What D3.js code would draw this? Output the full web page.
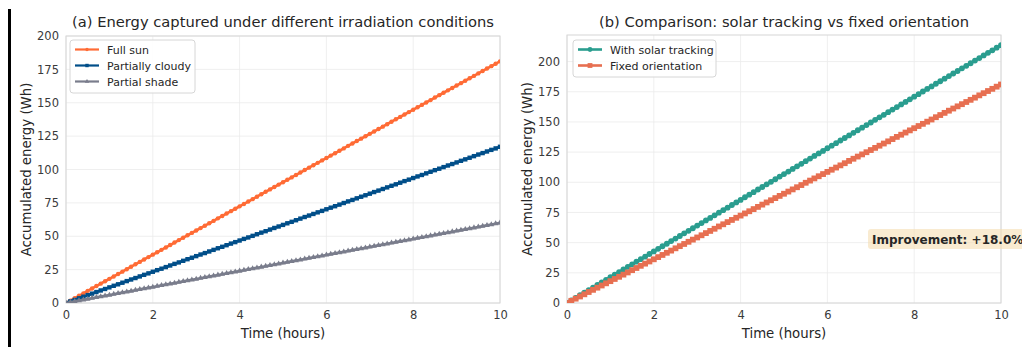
<!DOCTYPE html>
<html>
<head>
<meta charset="utf-8">
<script src="https://cdn.jsdelivr.net/npm/d3@7"></script>
<style>
  body { margin: 0; background: #fff; }
  text { font-family: "DejaVu Sans", sans-serif; }
</style>
</head>
<body>
<script>
// sampling grid: every 0.1 h from 0 to 10
const hours = d3.range(0, 101).map(k => k / 10);

const fullSun = [0,1.8,3.6,5.4,7.2,9.1,10.9,12.7,14.5,16.3,18.1,19.9,21.7,23.5,25.3,27.2,29.0,30.8,32.6,34.4,
  36.2,38.0,39.8,41.6,43.4,45.3,47.1,48.9,50.7,52.5,54.3,56.1,57.9,59.7,61.5,63.4,65.2,67.0,68.8,70.6,
  72.4,74.2,76.0,77.8,79.6,81.5,83.3,85.1,86.9,88.7,90.5,92.3,94.1,95.9,97.7,99.6,101.4,103.2,105.0,106.8,
  108.6,110.4,112.2,114.0,115.8,117.7,119.5,121.3,123.1,124.9,126.7,128.5,130.3,132.1,133.9,135.8,137.6,139.4,141.2,143.0,
  144.8,146.6,148.4,150.2,152.0,153.9,155.7,157.5,159.3,161.1,162.9,164.7,166.5,168.3,170.1,172.0,173.8,175.6,177.4,179.2,181.0];

const partlyCloudy = [0,1.2,2.3,3.5,4.7,5.9,7.0,8.2,9.4,10.5,11.7,12.9,14.0,15.2,16.4,17.6,18.7,19.9,21.1,22.2,
  23.4,24.6,25.7,26.9,28.1,29.3,30.4,31.6,32.8,33.9,35.1,36.3,37.4,38.6,39.8,41.0,42.1,43.3,44.5,45.6,
  46.8,48.0,49.1,50.3,51.5,52.7,53.8,55.0,56.2,57.3,58.5,59.7,60.8,62.0,63.2,64.4,65.5,66.7,67.9,69.0,
  70.2,71.4,72.5,73.7,74.9,76.1,77.2,78.4,79.6,80.7,81.9,83.1,84.2,85.4,86.6,87.8,88.9,90.1,91.3,92.4,
  93.6,94.8,95.9,97.1,98.3,99.5,100.6,101.8,103.0,104.1,105.3,106.5,107.6,108.8,110.0,111.2,112.3,113.5,114.7,115.8,117.0];

const partialShade = [0,0.6,1.2,1.8,2.4,3.0,3.6,4.2,4.8,5.4,6.0,6.6,7.2,7.8,8.4,9.0,9.6,10.2,10.8,11.4,
  12.0,12.6,13.2,13.8,14.4,15.0,15.6,16.2,16.8,17.4,18.0,18.6,19.2,19.8,20.4,21.0,21.6,22.2,22.8,23.4,
  24.0,24.6,25.2,25.8,26.4,27.0,27.6,28.2,28.8,29.4,30.0,30.6,31.2,31.8,32.4,33.0,33.6,34.2,34.8,35.4,
  36.0,36.6,37.2,37.8,38.4,39.0,39.6,40.2,40.8,41.4,42.0,42.6,43.2,43.8,44.4,45.0,45.6,46.2,46.8,47.4,
  48.0,48.6,49.2,49.8,50.4,51.0,51.6,52.2,52.8,53.4,54.0,54.6,55.2,55.8,56.4,57.0,57.6,58.2,58.8,59.4,60.0];

const withTracking = [0,2.1,4.3,6.4,8.5,10.7,12.8,15.0,17.1,19.2,21.4,23.5,25.6,27.8,29.9,32.0,34.2,36.3,38.4,40.6,
  42.7,44.9,47.0,49.1,51.3,53.4,55.5,57.7,59.8,61.9,64.1,66.2,68.4,70.5,72.6,74.8,76.9,79.0,81.2,83.3,
  85.4,87.6,89.7,91.8,94.0,96.1,98.3,100.4,102.5,104.7,106.8,108.9,111.1,113.2,115.3,117.5,119.6,121.8,123.9,126.0,
  128.2,130.3,132.4,134.6,136.7,138.8,141.0,143.1,145.2,147.4,149.5,151.7,153.8,155.9,158.1,160.2,162.3,164.5,166.6,168.7,
  170.9,173.0,175.2,177.3,179.4,181.6,183.7,185.8,188.0,190.1,192.2,194.4,196.5,198.6,200.8,202.9,205.1,207.2,209.3,211.5,213.6];

const fixedOrientation = [0,1.8,3.6,5.4,7.2,9.1,10.9,12.7,14.5,16.3,18.1,19.9,21.7,23.5,25.3,27.2,29.0,30.8,32.6,34.4,
  36.2,38.0,39.8,41.6,43.4,45.3,47.1,48.9,50.7,52.5,54.3,56.1,57.9,59.7,61.5,63.4,65.2,67.0,68.8,70.6,
  72.4,74.2,76.0,77.8,79.6,81.5,83.3,85.1,86.9,88.7,90.5,92.3,94.1,95.9,97.7,99.6,101.4,103.2,105.0,106.8,
  108.6,110.4,112.2,114.0,115.8,117.7,119.5,121.3,123.1,124.9,126.7,128.5,130.3,132.1,133.9,135.8,137.6,139.4,141.2,143.0,
  144.8,146.6,148.4,150.2,152.0,153.9,155.7,157.5,159.3,161.1,162.9,164.7,166.5,168.3,170.1,172.0,173.8,175.6,177.4,179.2,181.0];

const xTicks = [0, 2, 4, 6, 8, 10];
const yTicksA = [0, 25, 50, 75, 100, 125, 150, 175, 200];
const yTicksB = [0, 25, 50, 75, 100, 125, 150, 175, 200];
const improvementLabel = "Improvement: +18.0%";

const W = 1022, H = 347;
const svg = d3.select("body").append("svg")
  .attr("width", W).attr("height", H);

// black rule on the far left
svg.append("rect").attr("x", 8).attr("y", 9).attr("width", 3).attr("height", H - 9).attr("fill", "#000");

const panels = [
  {
    id: "a", left: 66, right: 500, top: 36, bottom: 303, yMax: 200, yTicks: yTicksA,
    title: "(a) Energy captured under different irradiation conditions",
    series: [
      { name: "Full sun", values: fullSun, color: "#ff6b35", marker: "circle" },
      { name: "Partially cloudy", values: partlyCloudy, color: "#004e89", marker: "square" },
      { name: "Partial shade", values: partialShade, color: "#7a7d8c", marker: "triangle" }
    ],
    lw: 2.6, ms: 4.4, legend: { x: 70, y: 40, w: 125 }
  },
  {
    id: "b", left: 567, right: 1001, top: 35, bottom: 303, yMax: 222, yTicks: yTicksB,
    title: "(b) Comparison: solar tracking vs fixed orientation",
    series: [
      { name: "With solar tracking", values: withTracking, color: "#2a9d8f", marker: "circle" },
      { name: "Fixed orientation", values: fixedOrientation, color: "#e76f51", marker: "square" }
    ],
    lw: 3, ms: 5.8, legend: { x: 573, y: 40, w: 143 }
  }
];

function markerPath(type, s) {
  if (type === "circle") return d3.symbol(d3.symbolCircle, Math.PI * (s / 2) * (s / 2))();
  if (type === "square") return d3.symbol(d3.symbolSquare, s * s)();
  return d3.symbol(d3.symbolTriangle, s * s * 0.75)();
}

panels.forEach(p => {
  const x = d3.scaleLinear().domain([0, 10]).range([p.left, p.right]);
  const y = d3.scaleLinear().domain([0, p.yMax]).range([p.bottom, p.top]);
  const g = svg.append("g");

  g.append("clipPath").attr("id", "clip-" + p.id)
    .append("rect").attr("x", p.left).attr("y", p.top)
    .attr("width", p.right - p.left).attr("height", p.bottom - p.top);

  // grid
  g.selectAll(".gx").data(xTicks).enter().append("line")
    .attr("x1", d => x(d)).attr("x2", d => x(d))
    .attr("y1", p.top).attr("y2", p.bottom)
    .attr("stroke", "#ebebeb").attr("stroke-width", 0.8);
  g.selectAll(".gy").data(p.yTicks).enter().append("line")
    .attr("x1", p.left).attr("x2", p.right)
    .attr("y1", d => y(d)).attr("y2", d => y(d))
    .attr("stroke", "#ebebeb").attr("stroke-width", 0.8);

  // frame
  g.append("rect").attr("x", p.left).attr("y", p.top)
    .attr("width", p.right - p.left).attr("height", p.bottom - p.top)
    .attr("fill", "none").attr("stroke", "#d6d6d6").attr("stroke-width", 1);

  // axes (tick labels only)
  const xAxis = g.append("g").attr("transform", `translate(0,${p.bottom})`)
    .call(d3.axisBottom(x).tickValues(xTicks).tickSize(0).tickPadding(8).tickFormat(d3.format("d")));
  const yAxis = g.append("g").attr("transform", `translate(${p.left},0)`)
    .call(d3.axisLeft(y).tickValues(p.yTicks).tickSize(0).tickPadding(7).tickFormat(d3.format("d")));
  [xAxis, yAxis].forEach(a => {
    a.select(".domain").remove();
    a.selectAll("text").attr("fill", "#3a3a3a").style("font-size", "11.5px")
      .style("font-family", "DejaVu Sans, sans-serif");
  });

  // labels
  g.append("text").attr("x", (p.left + p.right) / 2).attr("y", 27)
    .attr("text-anchor", "middle").attr("fill", "#262626").style("font-size", "14.7px").text(p.title);
  g.append("text").attr("x", (p.left + p.right) / 2).attr("y", 338)
    .attr("text-anchor", "middle").attr("fill", "#262626").style("font-size", "13.3px").text("Time (hours)");
  g.append("text")
    .attr("transform", `translate(${p.left - 35},${(p.top + p.bottom) / 2}) rotate(-90)`)
    .attr("text-anchor", "middle").attr("fill", "#262626").style("font-size", "13.3px")
    .text("Accumulated energy (Wh)");

  // series
  const plot = g.append("g").attr("clip-path", `url(#clip-${p.id})`);
  const line = d3.line().x((d, i) => x(hours[i])).y(d => y(d));
  p.series.forEach(s => {
    plot.append("path").datum(s.values).attr("d", line)
      .attr("fill", "none").attr("stroke", s.color).attr("stroke-width", p.lw);
    plot.selectAll(null).data(s.values).enter().append("path")
      .attr("transform", (d, i) => `translate(${x(hours[i])},${y(d)})`)
      .attr("d", markerPath(s.marker, p.ms)).attr("fill", s.color);
  });

  // legend
  const L = p.legend;
  const lg = g.append("g");
  lg.append("rect").attr("x", L.x).attr("y", L.y).attr("width", L.w)
    .attr("height", p.series.length * 16 + 5).attr("rx", 3)
    .attr("fill", "#fff").attr("fill-opacity", 0.85).attr("stroke", "#d6d6d6");
  p.series.forEach((s, i) => {
    const cy = L.y + 9.5 + i * 16;
    lg.append("line").attr("x1", L.x + 5).attr("x2", L.x + 29).attr("y1", cy).attr("y2", cy)
      .attr("stroke", s.color).attr("stroke-width", p.lw - 0.4);
    lg.append("path").attr("transform", `translate(${L.x + 17},${cy})`)
      .attr("d", markerPath(s.marker, p.ms - 1)).attr("fill", s.color);
    lg.append("text").attr("x", L.x + 37).attr("y", cy + 4)
      .attr("fill", "#262626").style("font-size", "11px").text(s.name);
  });

  if (p.id === "b") {
    g.append("rect").attr("x", 868).attr("y", 229).attr("width", 170).attr("height", 20).attr("rx", 3)
      .attr("fill", "#f5deb3").attr("fill-opacity", 0.6);
    g.append("text").attr("x", 872).attr("y", 244)
      .attr("fill", "#262626").style("font-size", "12px").style("font-weight", "bold")
      .text(improvementLabel);
  }
});
</script>
</body>
</html>
